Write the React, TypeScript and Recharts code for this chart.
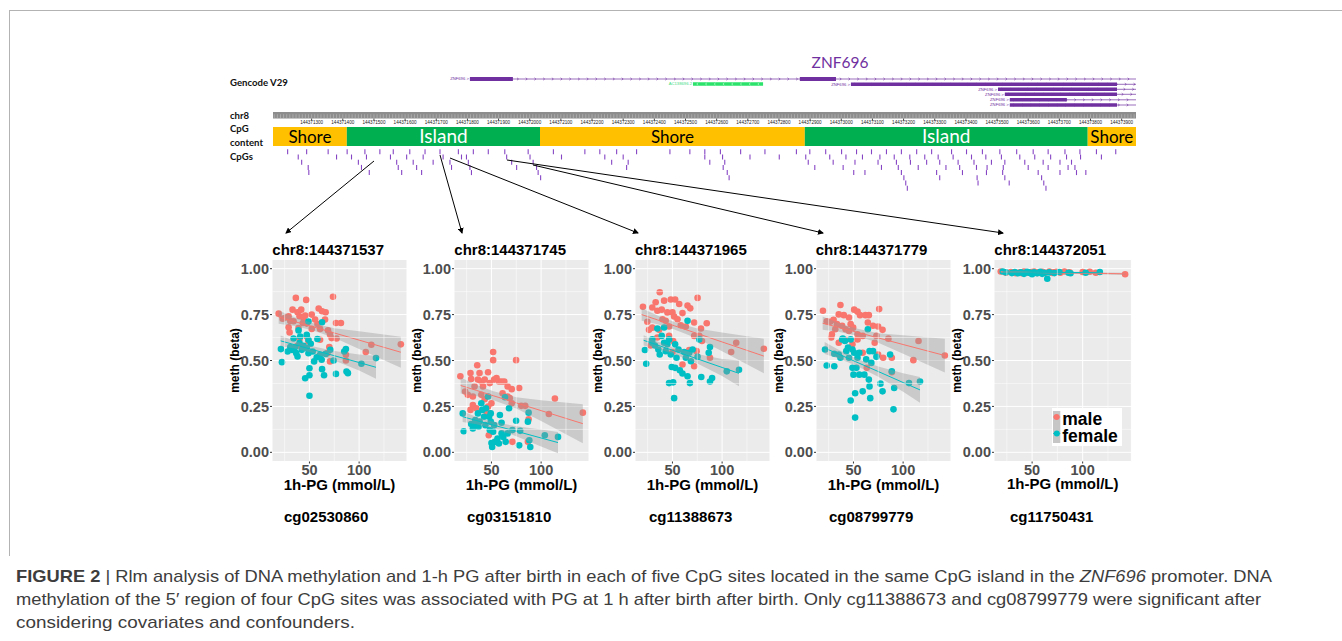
import React from "react";
import {
  ComposedChart,
  Scatter,
  Line,
  Area,
  XAxis,
  YAxis,
  CartesianGrid,
  ReferenceArea,
  ReferenceLine,
  Legend,
} from "recharts";

const SANS = '"Liberation Sans", Arial, Helvetica, sans-serif';
const CALIBRI = 'Lato, "Open Sans", sans-serif';
const MALE = "#F8766D";
const FEMALE = "#00BFC4";
const PURPLE = "#7030A0";
const CHR_BASE = 144371000;

// ---------- genome track (positions are bp offsets from chr8:144371000) ----------
const trackDomain: [number, number] = [176, 2946];
const rulerTicks = [
  300, 400, 500, 600, 700, 800, 900, 1000, 1100, 1200, 1300, 1400, 1500, 1600,
  1700, 1800, 1900, 2000, 2100, 2200, 2300, 2400, 2500, 2600, 2700, 2800, 2900,
];
const cpgContentType = ["Shore", "Island", "Shore", "Island", "Shore"];
const cpgContentStart = [176, 413, 1033, 1883, 2791];
const cpgContentEnd = [413, 1033, 1883, 2791, 2946];

// CpG sites, one list per stacking row of the track
const cpgRows = [
  [223, 284, 353, 414, 471, 519, 562, 615, 664, 712, 771, 819, 867, 920, 995, 1076, 1177, 1225, 1279, 1343, 1450, 1514, 1562,
    1612, 1677, 1755, 1856, 1899, 1950, 2001, 2049, 2097, 2145, 2193, 2242, 2290, 2354, 2402, 2453, 2509, 2563, 2616, 2664, 2718, 2766, 2819, 2881],
  [257, 380, 428, 476, 553, 605, 658, 722, 781, 797, 926, 1001, 1102, 1241, 1300, 1562,
    1619, 1707, 1801, 1886, 1963, 2015, 2068, 2124, 2170, 2220, 2268, 2311, 2359, 2418, 2464, 2514, 2573, 2621, 2672, 2723, 2768, 2835],
  [268, 450, 573, 626, 690, 744, 803, 942, 1011, 1263, 1316, 1578,
    1626, 1894, 1974, 2044, 2118, 2177, 2222, 2274, 2316, 2375, 2426, 2482, 2525, 2589, 2648, 2702, 2739],
  [289, 460, 578, 637, 749, 808, 958, 1022, 1311,
    1621, 1915, 2006, 2129, 2183, 2247, 2336, 2380, 2434, 2468, 2520, 2600, 2664, 2728, 2750],
  [291, 485, 589, 653, 813, 1027, 1634, 2040, 2076, 2193, 2306, 2389, 2466, 2518, 2632, 2702, 2755, 2785],
  [1035, 1640, 2201, 2316, 2436, 2525, 2643],
  [2207, 2439, 2539, 2650],
  [2212, 2657],
];

const txNames = ["ZNF696", "AC138696.2", "ZNF696", "ZNF696", "ZNF696", "ZNF696", "ZNF696"];
const txStart = [808, 1524, 2031, 2503, 2525, 2541, 2541];
const txEnd = [2946, 1749, 2946, 2946, 2946, 2946, 2946];
const txRow = [79, 84, 84.3, 89.3, 94.3, 99.8, 105];
const txStrand = ["+", "-", "+", "+", "+", "+", "+"];
const txExons: [number, number][][] = [
  [[808, 946], [1867, 1983]],
  [[1524, 1749]],
  [[2031, 2885]],
  [[2503, 2885]],
  [[2525, 2885]],
  [[2541, 2724]],
  [[2541, 2885]],
];

// ---------- scatter panels ----------
const siteTitles = ["chr8:144371537", "chr8:144371745", "chr8:144371965", "chr8:144371779", "chr8:144372051"];
const probeNames = ["cg02530860", "cg03151810", "cg11388673", "cg08799779", "cg11750431"];

const male1 = [[19,.755],[23,.728],[26.3,.734],[29,.741],[30.7,.715],[33,.777],[36.3,.841],[38,.763],[40,.741],[41.7,.777],[44,.732],[46.7,.83],[29,.681],[30,.653],[39,.677],[43.3,.704],[47.3,.701],[52.3,.75],[55.7,.723],[59.3,.783],[62.7,.768],[66.3,.763],[58,.699],[73.7,.847],[68.7,.664],[70.7,.641],[76.7,.704],[81.7,.704],[40,.617],[47.3,.631],[38,.58],[60.7,.672],[72.3,.622],[77.3,.62],[70,.573],[70.7,.495],[86.7,.531],[86.7,.5],[106.7,.546],[112.3,.586],[142,.588],[52.3,.672],[34,.714],[45.7,.745],[65.7,.723],[49,.604],[60.7,.613],[68,.54]];
const female1 = [[21.3,.562],[22.3,.491],[30.7,.573],[34,.62],[35.7,.573],[36.7,.54],[39,.664],[40,.595],[42.3,.558],[44,.58],[45.7,.403],[47.3,.64],[49,.613],[49,.54],[50,.458],[50,.42],[50,.308],[51.3,.591],[53.3,.549],[54.7,.495],[58,.617],[60.7,.531],[62.7,.708],[62.7,.453],[64.7,.42],[66.3,.536],[71,.558],[74.3,.5],[76.7,.427],[85,.549],[86.7,.562],[87.3,.44],[88.7,.431],[102.3,.482],[117,.513],[28,.549],[38,.522],[57.3,.518],[47.3,.568],[40.7,.631],[62.3,.504],[32.3,.558],[49,.712]];

const male2 = [[18.7,.414],[23.5,.331],[28.9,.432],[29.6,.399],[26.2,.313],[31.3,.304],[28.9,.231],[33,.359],[35.7,.474],[36.4,.396],[38,.432],[39.8,.386],[41.5,.359],[43.2,.396],[46.6,.436],[48.3,.377],[51.7,.546],[51.7,.502],[52.7,.396],[55.1,.405],[57.5,.386],[60.2,.386],[62.9,.386],[66.3,.359],[70.4,.344],[74.8,.502],[77.9,.35],[31.3,.258],[34.7,.24],[39.8,.313],[43.2,.289],[46.6,.249],[50,.267],[44.9,.222],[48.3,.212],[61.2,.322],[66.3,.304],[70.4,.267],[80,.253],[84,.253],[86.7,.057],[71.1,.057],[107.8,.209],[113.9,.293],[142,.216],[47.3,.093],[87.4,.18],[68.4,.295]];
const female2 = [[21.1,.212],[22.1,.115],[29.6,.154],[31.3,.13],[33.7,.176],[34.7,.148],[36.4,.212],[38.1,.167],[39.8,.267],[40.8,.231],[42.5,.194],[43.9,.148],[46.6,.304],[47.6,.194],[48.3,.121],[49.3,.167],[50,.051],[50.7,.029],[51.7,.112],[53.4,.057],[56.1,.075],[58.5,.203],[57.5,.048],[60.2,.103],[61.9,.084],[64.3,.057],[63.6,.3],[67.7,.24],[71.1,.121],[74.8,.172],[77.9,.038],[78.9,.117],[86.7,.167],[87.4,.216],[88.1,.066],[89.1,.029],[103.7,.093],[117,.084],[52.7,.148],[49.3,.212],[44.5,.24],[37,.139],[66.3,.103],[60.2,.161]];

const male3 = [[20.3,.793],[24.7,.711],[29.7,.789],[33.1,.817],[37.2,.872],[34.8,.771],[39.2,.777],[41.6,.826],[48.3,.832],[52.7,.832],[56.8,.808],[40,.725],[43.2,.716],[44.9,.762],[50,.762],[51.7,.74],[55.1,.725],[60.1,.758],[65.2,.799],[67.9,.784],[75.3,.841],[29.7,.679],[26.4,.667],[36.5,.667],[46.6,.685],[58.4,.692],[63.5,.685],[71.9,.707],[78.7,.674],[84.5,.703],[34.8,.625],[46.6,.634],[50.7,.606],[71.9,.634],[77,.634],[79.7,.606],[60.1,.478],[71.9,.469],[74.3,.551],[87.8,.515],[109.1,.546],[114.2,.597],[142,.564],[50,.546],[66.9,.557],[28,.582]];
const female3 = [[22.3,.557],[23.6,.482],[29.7,.597],[32.4,.582],[34.8,.674],[35.8,.56],[37.2,.533],[39.2,.634],[41.6,.68],[43.2,.551],[44.9,.588],[46.6,.615],[46.6,.377],[48.3,.533],[49.3,.465],[50.7,.381],[51.7,.295],[52.7,.46],[54.1,.515],[56.1,.56],[57.4,.447],[60.1,.429],[63.5,.515],[65.2,.716],[65.2,.414],[67.6,.377],[68.6,.496],[70.3,.56],[75.3,.52],[77,.615],[79,.41],[86.5,.542],[87.8,.573],[87.8,.386],[89.9,.405],[104.7,.441],[117,.45],[41.6,.597],[61.8,.546],[29.7,.615],[52.7,.588],[66.9,.542]];

const male4 = [[19.3,.771],[23.1,.714],[26.6,.711],[30,.722],[35.2,.751],[36.9,.802],[40.3,.747],[45.5,.734],[47.2,.698],[50.7,.777],[54.1,.766],[56.6,.747],[62.1,.747],[65.5,.747],[75.9,.78],[28.3,.643],[31.7,.67],[33.4,.698],[38.6,.689],[42.1,.67],[45.5,.661],[49.7,.679],[54.1,.643],[59.3,.634],[64.5,.707],[69.7,.689],[74.8,.685],[79.3,.667],[73.1,.634],[85.2,.619],[71.4,.597],[27.6,.625],[35.2,.597],[42.1,.612],[54.1,.615],[59.3,.542],[63.4,.46],[74.8,.533],[79.9,.515],[88.6,.515],[88.6,.436],[110.3,.502],[115.5,.606],[142,.527],[49,.588]];
const female4 = [[21.4,.56],[23.1,.473],[30.7,.469],[30.7,.537],[35.2,.533],[36.9,.515],[39.3,.619],[41.4,.606],[42.8,.551],[45.5,.515],[47.2,.615],[47.2,.282],[49,.56],[49,.46],[50,.423],[50.7,.542],[51.7,.322],[51.7,.189],[53,.46],[54.1,.515],[55.9,.423],[59.3,.332],[61,.423],[64.5,.67],[65.5,.396],[66.2,.359],[66.9,.295],[68,.487],[69.7,.551],[73.1,.52],[77.2,.374],[79.3,.332],[86.9,.533],[88.6,.441],[90.3,.234],[91,.35],[105.9,.377],[117,.386],[38.6,.615],[44.5,.57],[55.9,.542],[62.8,.506],[66.2,.551]];

const male5 = [[19,.985],[24,.978],[29,.982],[34,.975],[38,.98],[42,.985],[45,.978],[49,.982],[52,.985],[56,.98],[60,.983],[63,.978],[67,.985],[71,.98],[74,.983],[78,.978],[82,.985],[87,.98],[100,.982],[107,.983],[113,.978],[142,.97],[40,.975],[55,.976],[70,.977]];
const female5 = [[21,.985],[24,.98],[30,.976],[33,.982],[36,.975],[39,.98],[42,.972],[45,.983],[48,.977],[50,.97],[52,.98],[55,.975],[58,.983],[62,.978],[65,.945],[67,.98],[72,.976],[77,.982],[86,.978],[88,.975],[103,.978],[117,.982],[46,.98],[60,.972]];

// fitted rlm line with band: [x, lower, fit, upper]
const maleFit1 = [[19,.70,.737,.772],[35,.688,.712,.736],[52,.666,.686,.706],[75,.624,.65,.676],[100,.563,.611,.659],[142,.46,.545,.63]];
const femaleFit1 = [[21,.578,.607,.636],[35,.566,.586,.606],[52,.543,.561,.579],[75,.5,.526,.552],[100,.445,.489,.533],[117,.40,.463,.526]];
const maleFit2 = [[19,.32,.364,.408],[35,.307,.337,.367],[52,.283,.308,.333],[75,.238,.269,.3],[100,.17,.227,.284],[142,.05,.156,.262]];
const femaleFit2 = [[21,.165,.194,.223],[35,.153,.173,.193],[52,.13,.148,.166],[75,.088,.115,.142],[100,.032,.078,.124],[117,-.005,.053,.111]];
const maleFit3 = [[19,.716,.75,.784],[35,.697,.721,.745],[52,.669,.689,.709],[75,.62,.647,.674],[100,.55,.601,.652],[142,.43,.524,.618]];
const femaleFit3 = [[21,.582,.61,.638],[35,.564,.584,.604],[52,.534,.552,.57],[75,.483,.509,.535],[100,.416,.462,.508],[117,.36,.43,.5]];
const maleFit4 = [[19,.667,.703,.739],[35,.656,.68,.704],[52,.636,.656,.676],[75,.597,.623,.649],[100,.537,.587,.637],[142,.435,.527,.619]];
const femaleFit4 = [[21,.535,.568,.601],[35,.511,.535,.559],[52,.474,.494,.514],[75,.412,.44,.468],[100,.33,.38,.43],[117,.27,.34,.41]];
const maleFit5 = [[19,.978,.983,.988],[52,.976,.979,.982],[100,.971,.976,.981],[142,.966,.972,.978]];
const femaleFit5 = [[21,.976,.982,.988],[52,.977,.98,.983],[100,.974,.979,.984],[117,.972,.978,.984]];

const malePts = [male1, male2, male3, male4, male5];
const femalePts = [female1, female2, female3, female4, female5];
const maleFits = [maleFit1, maleFit2, maleFit3, maleFit4, maleFit5];
const femaleFits = [femaleFit1, femaleFit2, femaleFit3, femaleFit4, femaleFit5];

// layout
const TRACK_LEFT = 273;
const TRACK_W = 863;
const plotLefts = [272.3, 454.3, 635, 815.7, 994.3];
const plotWidths = [135, 135, 135, 135, 137.4];
const probeLefts = [284, 467, 649, 829, 1010];
const CHART_TOP = 240;
const PLOT_TOP = 259.5;
const PLOT_H = 202;
const CHART_H = 280;
const Y_AXIS_W = 50;
const X_AXIS_H = 30;

const txColor = (i: number) => (txStrand[i] === "-" ? "#2BE36A" : PURPLE);

const Chevron = (props: any) => {
  const { cx, cy, payload } = props;
  const d =
    payload.dir === "-"
      ? `M${cx + 0.9},${cy - 1.2} L${cx - 0.6},${cy} L${cx + 0.9},${cy + 1.2}`
      : `M${cx - 0.9},${cy - 1.2} L${cx + 0.6},${cy} L${cx - 0.9},${cy + 1.2}`;
  return <path d={d} fill="none" stroke={payload.color} strokeWidth={0.6} />;
};

const TxLabel = (props: any) => {
  const { cx, cy, payload } = props;
  return (
    <text x={cx - 1} y={cy + 1.4} textAnchor="end" fontSize={4.2} fontFamily={SANS} fill={payload.color}>
      {payload.name}
    </text>
  );
};

const GeneTrack = () => {
  const chevrons: any[] = [];
  txStart.forEach((s, i) => {
    for (let p = s + 14; p < txEnd[i]; p += 28) {
      chevrons.push({ x: p, y: txRow[i], dir: txStrand[i], color: txStrand[i] === "-" ? "#c8ffd8" : PURPLE });
    }
  });
  const labels = txNames.map((n, i) => ({
    x: txStart[i],
    y: txRow[i],
    name: txStrand[i] === "-" ? n : `${n} >`,
    color: txStrand[i] === "-" ? "#3ddc84" : PURPLE,
  }));
  return (
    <div style={{ position: "absolute", left: TRACK_LEFT, top: 50 }}>
      <ComposedChart width={TRACK_W} height={60} margin={{ top: 0, right: 0, bottom: 0, left: 0 }} data={[]}>
        <XAxis type="number" dataKey="x" domain={trackDomain} hide allowDataOverflow />
        <YAxis type="number" domain={[50, 110]} reversed hide allowDataOverflow />
        {txStart.map((s, i) =>
          txStrand[i] === "-" ? null : (
            <ReferenceLine
              key={`l${i}`}
              segment={[{ x: s, y: txRow[i] }, { x: txEnd[i], y: txRow[i] }]}
              stroke={PURPLE}
              strokeWidth={0.7}
              ifOverflow="visible"
            />
          )
        )}
        {txExons.map((ex, i) =>
          ex.map(([a, b], j) => (
            <ReferenceArea
              key={`e${i}-${j}`}
              x1={a}
              x2={b}
              y1={txRow[i] - (i === 0 ? 2 : 1.7)}
              y2={txRow[i] + (i === 0 ? 2 : 1.7)}
              fill={txColor(i)}
              fillOpacity={1}
              stroke="none"
              ifOverflow="visible"
            />
          ))
        )}
        <Scatter data={chevrons} dataKey="y" shape={Chevron} isAnimationActive={false} />
        <Scatter data={labels} dataKey="y" shape={TxLabel} isAnimationActive={false} />
      </ComposedChart>
    </div>
  );
};

const MinorTick = (props: any) => {
  const { cx, cy } = props;
  return <line x1={cx} x2={cx} y1={cy - 1} y2={cy + 3.2} stroke="#c9c9c9" strokeWidth={0.5} />;
};

const RulerTrack = () => {
  const minor: { x: number; y: number }[] = [];
  for (let p = 180; p <= 2946; p += 10) minor.push({ x: p, y: 0.5 });
  return (
    <div style={{ position: "absolute", left: TRACK_LEFT, top: 112 }}>
      <ComposedChart width={TRACK_W} height={18} margin={{ top: 0, right: 0, bottom: 0, left: 0 }} data={[]}>
        <XAxis
          type="number"
          dataKey="x"
          domain={trackDomain}
          ticks={rulerTicks}
          interval={0}
          tickFormatter={(v: number) => String(CHR_BASE + v)}
          tick={{ fontSize: 4.6, fill: "#222", fontFamily: SANS }}
          tickSize={2}
          tickMargin={0.5}
          axisLine={false}
          stroke="#444"
          height={11.5}
          allowDataOverflow
        />
        <YAxis type="number" domain={[0, 1]} hide allowDataOverflow />
        <ReferenceArea x1={trackDomain[0]} x2={trackDomain[1]} y1={0} y2={1} fill="#8d8d8d" fillOpacity={1} stroke="none" />
        <Scatter data={minor} dataKey="y" shape={MinorTick} isAnimationActive={false} />
      </ComposedChart>
    </div>
  );
};

const CpgTick = (props: any) => {
  const { cx, cy } = props;
  return <line x1={cx} x2={cx} y1={cy} y2={cy + 5} stroke="#8646c4" strokeWidth={1.1} />;
};

const CpgTrack = () => {
  const sites = cpgRows.flatMap((row, r) => row.map((p) => ({ x: p, y: 149.3 + 5.2 * r })));
  return (
    <div style={{ position: "absolute", left: TRACK_LEFT, top: 127 }}>
      <ComposedChart width={TRACK_W} height={73} margin={{ top: 0, right: 0, bottom: 0, left: 0 }} data={[]}>
        <XAxis type="number" dataKey="x" domain={trackDomain} hide allowDataOverflow />
        <YAxis type="number" domain={[127, 200]} reversed hide allowDataOverflow />
        {cpgContentType.map((t, i) => (
          <ReferenceArea
            key={i}
            x1={cpgContentStart[i]}
            x2={cpgContentEnd[i]}
            y1={127}
            y2={146}
            fill={t === "Island" ? "#00B050" : "#FFC000"}
            fillOpacity={1}
            stroke="none"
            label={{
              value: t,
              position: "center",
              fill: t === "Island" ? "#fff" : "#000",
              fontSize: t === "Island" ? 19 : 17,
              fontFamily: CALIBRI,
            }}
          />
        ))}
        <Scatter data={sites} dataKey="y" shape={CpgTick} isAnimationActive={false} />
      </ComposedChart>
    </div>
  );
};

const LegendBox = () => (
  <div style={{ width: 70, height: 38, background: "#fff", position: "relative" }}>
    <svg width={70} height={38} style={{ position: "absolute", left: 0, top: 0 }}>
      <rect x={1} y={3} width={7.3} height={16} fill="#c6c6c6" />
      <rect x={1} y={19} width={7.3} height={16} fill="#c6c6c6" />
      <line x1={1} x2={8.3} y1={9} y2={9} stroke={MALE} strokeWidth={0.8} />
      <line x1={1} x2={8.3} y1={25.5} y2={25.5} stroke={FEMALE} strokeWidth={0.8} />
      <circle cx={4.6} cy={9} r={3} fill={MALE} />
      <circle cx={4.8} cy={25.5} r={3} fill={FEMALE} />
      <text x={10.3} y={17} fontFamily={SANS} fontWeight="bold" fontSize={17.5} fill="#000">male</text>
      <text x={10.3} y={33.5} fontFamily={SANS} fontWeight="bold" fontSize={17.5} fill="#000">female</text>
    </svg>
  </div>
);

const MethPanel = ({ i }: { i: number }) => {
  const w = plotWidths[i];
  const chartW = Y_AXIS_W + 10 + w + 4;
  const top = PLOT_TOP - CHART_TOP;
  const male = malePts[i].map(([x, y]) => ({ x, y }));
  const female = femalePts[i].map(([x, y]) => ({ x, y }));
  const rows: any[] = [
    ...maleFits[i].map(([x, lo, y, hi]) => ({ x, mBand: [lo, hi], mFit: y })),
    ...femaleFits[i].map(([x, lo, y, hi]) => ({ x, fBand: [lo, hi], fFit: y })),
  ].sort((a, b) => a.x - b.x);
  const dot = (color: string) => (p: any) => <circle cx={p.cx} cy={p.cy} r={3.3} fill={color} />;
  return (
    <div style={{ position: "absolute", left: plotLefts[i] - 60, top: CHART_TOP }}>
      <ComposedChart
        width={chartW}
        height={CHART_H}
        data={rows}
        margin={{ top, right: 4, bottom: CHART_H - top - PLOT_H - X_AXIS_H, left: 10 }}
      >
        <CartesianGrid fill="#EBEBEB" fillOpacity={1} stroke="#ffffff" strokeWidth={1} />
        <XAxis
          type="number"
          dataKey="x"
          domain={[12.3, 148.2]}
          allowDataOverflow
          ticks={[50, 100]}
          axisLine={false}
          tickSize={2}
          tickMargin={1}
          stroke="#333"
          height={X_AXIS_H}
          tick={{ fontSize: 14.5, fontWeight: "bold", fill: "#4D4D4D", fontFamily: SANS }}
          label={() => (
            <text
              x={60 + w / 2}
              y={top + PLOT_H + 28}
              textAnchor="middle"
              fontFamily={SANS}
              fontWeight="bold"
              fontSize={15}
              fill="#000"
            >
              1h-PG (mmol/L)
            </text>
          )}
        />
        <YAxis
          type="number"
          domain={[-0.05, 1.05]}
          allowDataOverflow
          ticks={[0, 0.25, 0.5, 0.75, 1]}
          tickFormatter={(v: number) => v.toFixed(2)}
          axisLine={false}
          tickSize={2}
          tickMargin={1}
          stroke="#333"
          width={Y_AXIS_W}
          tick={{ fontSize: 14.5, fontWeight: "bold", fill: "#4D4D4D", fontFamily: SANS }}
          label={() => {
            const cx = 23;
            const cy = top + PLOT_H / 2;
            return (
              <text
                x={cx}
                y={cy}
                transform={`rotate(-90 ${cx} ${cy})`}
                textAnchor="middle"
                dominantBaseline="central"
                fontFamily={SANS}
                fontWeight="bold"
                fontSize={12}
                fill="#000"
              >
                meth (beta)
              </text>
            );
          }}
        />
        {[0.125, 0.375, 0.625, 0.875].map((v) => (
          <ReferenceLine key={`h${v}`} y={v} stroke="#ffffff" strokeWidth={0.5} />
        ))}
        {[25, 75, 125].map((v) => (
          <ReferenceLine key={`v${v}`} x={v} stroke="#ffffff" strokeWidth={0.5} />
        ))}
        <Scatter data={male} dataKey="y" shape={dot(MALE)} isAnimationActive={false} zIndex={100} />
        <Scatter data={female} dataKey="y" shape={dot(FEMALE)} isAnimationActive={false} zIndex={100} />
        <Area dataKey="mBand" stroke="none" fill="#999999" fillOpacity={0.4} connectNulls isAnimationActive={false} dot={false} activeDot={false} zIndex={200} />
        <Line dataKey="mFit" stroke={MALE} strokeWidth={1} connectNulls dot={false} activeDot={false} isAnimationActive={false} zIndex={201} />
        <Area dataKey="fBand" stroke="none" fill="#999999" fillOpacity={0.4} connectNulls isAnimationActive={false} dot={false} activeDot={false} zIndex={202} />
        <Line dataKey="fFit" stroke={FEMALE} strokeWidth={1} connectNulls dot={false} activeDot={false} isAnimationActive={false} zIndex={203} />
        {i === 4 && (
          <Legend
            layout="horizontal"
            verticalAlign="middle"
            align="center"
            content={() => <LegendBox />}
            wrapperStyle={{ left: 1051.7 - (plotLefts[i] - 60), top: 408 - CHART_TOP, width: 70, height: 38 }}
          />
        )}
      </ComposedChart>
    </div>
  );
};

const arrows = [
  [374, 161, 286, 233],
  [440, 155, 462, 233],
  [450, 158, 638, 233],
  [533, 165, 823, 233],
  [507, 160, 1003, 233],
];

const Overlay = () => (
  <svg width={1342} height={641} style={{ position: "absolute", left: 0, top: 0, pointerEvents: "none" }}>
    <defs>
      <marker id="ah" markerWidth={6} markerHeight={6} refX={5} refY={3} orient="auto" markerUnits="userSpaceOnUse">
        <path d="M0,0 L6,3 L0,6 z" fill="#000" />
      </marker>
    </defs>
    <line x1={10} x2={1342} y1={10.5} y2={10.5} stroke="#b3b3b3" strokeWidth={1} />
    <line x1={9.5} x2={9.5} y1={10} y2={556} stroke="#b3b3b3" strokeWidth={1} />

    <g fontFamily={CALIBRI} fontWeight="bold" fontSize={9.6} fill="#111">
      <text x={230} y={86}>Gencode V29</text>
      <text x={230} y={119}>chr8</text>
      <text x={230} y={131.5}>CpG</text>
      <text x={230} y={145.5}>content</text>
      <text x={230} y={159.5}>CpGs</text>
    </g>
    <text x={840} y={68} textAnchor="middle" fontFamily={CALIBRI} fontSize={15.5} fill={PURPLE}>ZNF696</text>

    {arrows.map(([x1, y1, x2, y2], k) => (
      <line key={k} x1={x1} y1={y1} x2={x2} y2={y2} stroke="#000" strokeWidth={1} markerEnd="url(#ah)" />
    ))}

    {siteTitles.map((t, i) => (
      <text key={t} x={plotLefts[i]} y={254.5} fontFamily={SANS} fontWeight="bold" fontSize={15} fill="#000">
        {t}
      </text>
    ))}
    {probeNames.map((t, i) => (
      <text key={t} x={probeLefts[i]} y={522} fontFamily={SANS} fontWeight="bold" fontSize={15} fill="#000">
        {t}
      </text>
    ))}

    <g fontFamily={SANS} fontSize={17} fill="#3d3d3d">
      <text x={16} y={581.5} textLength={1256} lengthAdjust="spacingAndGlyphs">
        <tspan fontWeight="bold">FIGURE 2</tspan> | Rlm analysis of DNA methylation and 1-h PG after birth in each of five CpG sites located in the same CpG island in the <tspan fontStyle="italic">ZNF696</tspan> promoter. DNA
      </text>
      <text x={16} y={604.5} textLength={1245} lengthAdjust="spacingAndGlyphs">
        methylation of the 5′ region of four CpG sites was associated with PG at 1 h after birth after birth. Only cg11388673 and cg08799779 were significant after
      </text>
      <text x={16} y={627.5} textLength={339} lengthAdjust="spacingAndGlyphs">
        considering covariates and confounders.
      </text>
    </g>
  </svg>
);

export default function App() {
  return (
    <div style={{ position: "absolute", left: 0, top: 0, width: 1342, height: 641, background: "#fff", overflow: "hidden" }}>
      <GeneTrack />
      <RulerTrack />
      <CpgTrack />
      {[0, 1, 2, 3, 4].map((i) => (
        <MethPanel key={i} i={i} />
      ))}
      <Overlay />
    </div>
  );
}
